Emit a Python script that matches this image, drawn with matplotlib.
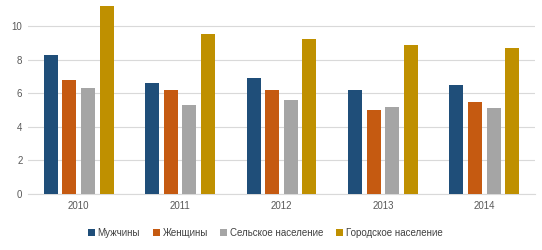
import matplotlib
matplotlib.use("Agg")
import matplotlib.pyplot as plt
import numpy as np

plt.rcParams['font.family'] = ['Liberation Sans', 'DejaVu Sans']

years = ["2010", "2011", "2012", "2013", "2014"]
series_names = ["Мужчины", "Женщины", "Сельское население", "Городское население"]
men = [8.3, 6.6, 6.9, 6.2, 6.5]
women = [6.8, 6.2, 6.2, 5.0, 5.5]
rural = [6.3, 5.3, 5.6, 5.2, 5.1]
urban = [11.2, 9.5, 9.2, 8.9, 8.7]
colors = ["#1F4E79", "#C55A11", "#A5A5A5", "#BF9000"]

fig = plt.figure(figsize=(5.42, 2.5), dpi=100)
ax = fig.add_axes([28/542, 56/250, 507/542, 194/250])

x = np.arange(len(years))
step = 0.184
width = 0.138
data = [men, women, rural, urban]
for i, (vals, c, name) in enumerate(zip(data, colors, series_names)):
    ax.bar(x + (i - 1.5) * step, vals, width=width, color=c, label=name, zorder=3)

ax.set_xlim(-0.5, 4.5)
ax.set_ylim(0, 11.55)
ax.set_yticks([0, 2, 4, 6, 8, 10])
ax.set_xticks(x)
ax.set_xticklabels(years)
ax.yaxis.grid(True, color="#D9D9D9", linewidth=0.8, zorder=0)
for s in ["top", "right", "left"]:
    ax.spines[s].set_visible(False)
ax.spines["bottom"].set_color("#D9D9D9")
ax.tick_params(axis="both", length=0, labelsize=7, colors="#595959", pad=4)
ax.tick_params(axis="x", pad=5)

ax.legend(loc="upper center", bbox_to_anchor=(0.468, -0.13), ncol=4, frameon=False,
          fontsize=7, handlelength=0.7, handleheight=0.7, handletextpad=0.3,
          columnspacing=1.3, labelcolor="#404040")

fig.savefig("out.png", dpi=100)
